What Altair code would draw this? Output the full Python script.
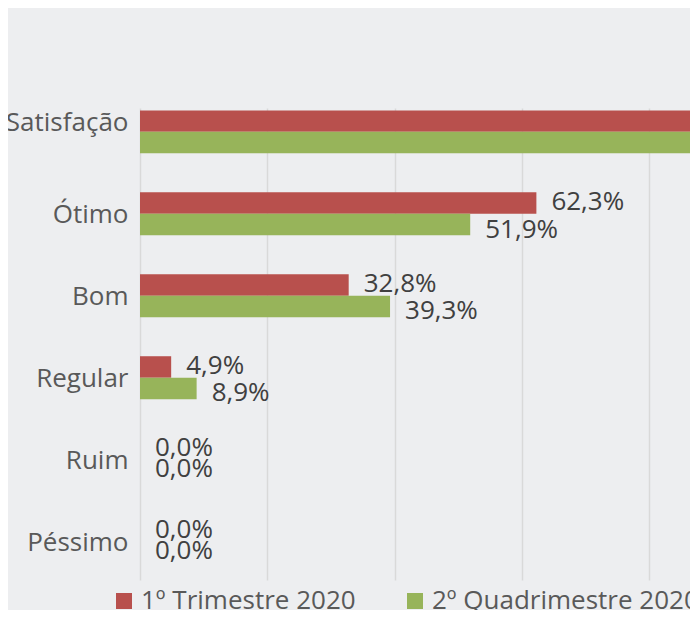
import altair as alt
import pandas as pd

categorias = ["Satisfação", "Ótimo", "Bom", "Regular", "Ruim", "Péssimo"]
series = ["1º Trimestre 2020", "2º Quadrimestre 2020"]
trimestre = [95.1, 62.3, 32.8, 4.9, 0.0, 0.0]
quadrimestre = [91.2, 51.9, 39.3, 8.9, 0.0, 0.0]
cores = ["#B8504D", "#97B45A"]
grade = [0, 20, 40, 60, 80]

rows = []
for c, a, b in zip(categorias, trimestre, quadrimestre):
    rows.append({"cat": c, "serie": series[0], "valor": a})
    rows.append({"cat": c, "serie": series[1], "valor": b})
df = pd.DataFrame(rows)

W, H = 550, 472
xmax = W / 6.3625
FONT = "Open Sans"

x = alt.X(
    "valor:Q",
    scale=alt.Scale(domain=[0, xmax], nice=False, zero=True),
    axis=alt.Axis(values=grade, labels=False, ticks=False, domain=False,
                  grid=True, gridColor="#D9D9D9", gridWidth=1.5, title=None),
)
y = alt.Y(
    "cat:N",
    sort=categorias,
    scale=alt.Scale(paddingInner=0.476, paddingOuter=0.118, align=0.124),
    axis=alt.Axis(title=None, ticks=False, domain=False, labelFont=FONT,
                  labelFontSize=26, labelColor="#595959", labelPadding=12,
                  labelOffset={"condition": {"test": "datum.value === 'Satisfação'", "value": -9}, "value": 1}),
)
yoff = alt.YOffset("serie:N", sort=series, scale=alt.Scale(paddingInner=0, paddingOuter=0))
color = alt.Color(
    "serie:N", sort=series,
    scale=alt.Scale(domain=series, range=cores),
    legend=alt.Legend(title=None, orient="none", legendX=-29, legendY=480,
                      direction="horizontal", symbolType="square", symbolSize=256,
                      symbolStrokeWidth=0, labelFont=FONT, labelFontSize=26,
                      labelColor="#595959", labelOffset=4, columnPadding=46,
                      labelLimit=600, padding=0, symbolOpacity=1),
)

base = alt.Chart(df).transform_calculate(
    rotulo="replace(format(datum.valor, '.1f'), '.', ',') + '%'"
)

bars = base.mark_bar(clip=True).encode(x=x, y=y, yOffset=yoff, color=color)

def labels(filt, dy):
    return base.transform_filter(f"({filt}) && datum.valor < {xmax}").mark_text(
        align="left", baseline="middle", dx=15, dy=dy, font=FONT, fontSize=26,
        color="#404040", clip=True
    ).encode(x=x, y=y, yOffset=yoff, text="rotulo:N")

t1 = labels(f"datum.serie === '{series[0]}' && datum.valor > 0", -1)
t2 = labels(f"datum.serie === '{series[1]}' && datum.valor > 0", 5)
t0 = labels("datum.valor == 0", -1)

chart = alt.layer(bars, t1, t2, t0).properties(
    width=W, height=H,
    autosize=alt.AutoSizeParams(type="none"),
    padding={"left": 132, "top": 100, "right": 0, "bottom": 30},
).configure(background="#EDEEF0").configure_view(strokeWidth=0)

chart.save("out.html", embed_options={"renderer": "svg", "actions": False})
